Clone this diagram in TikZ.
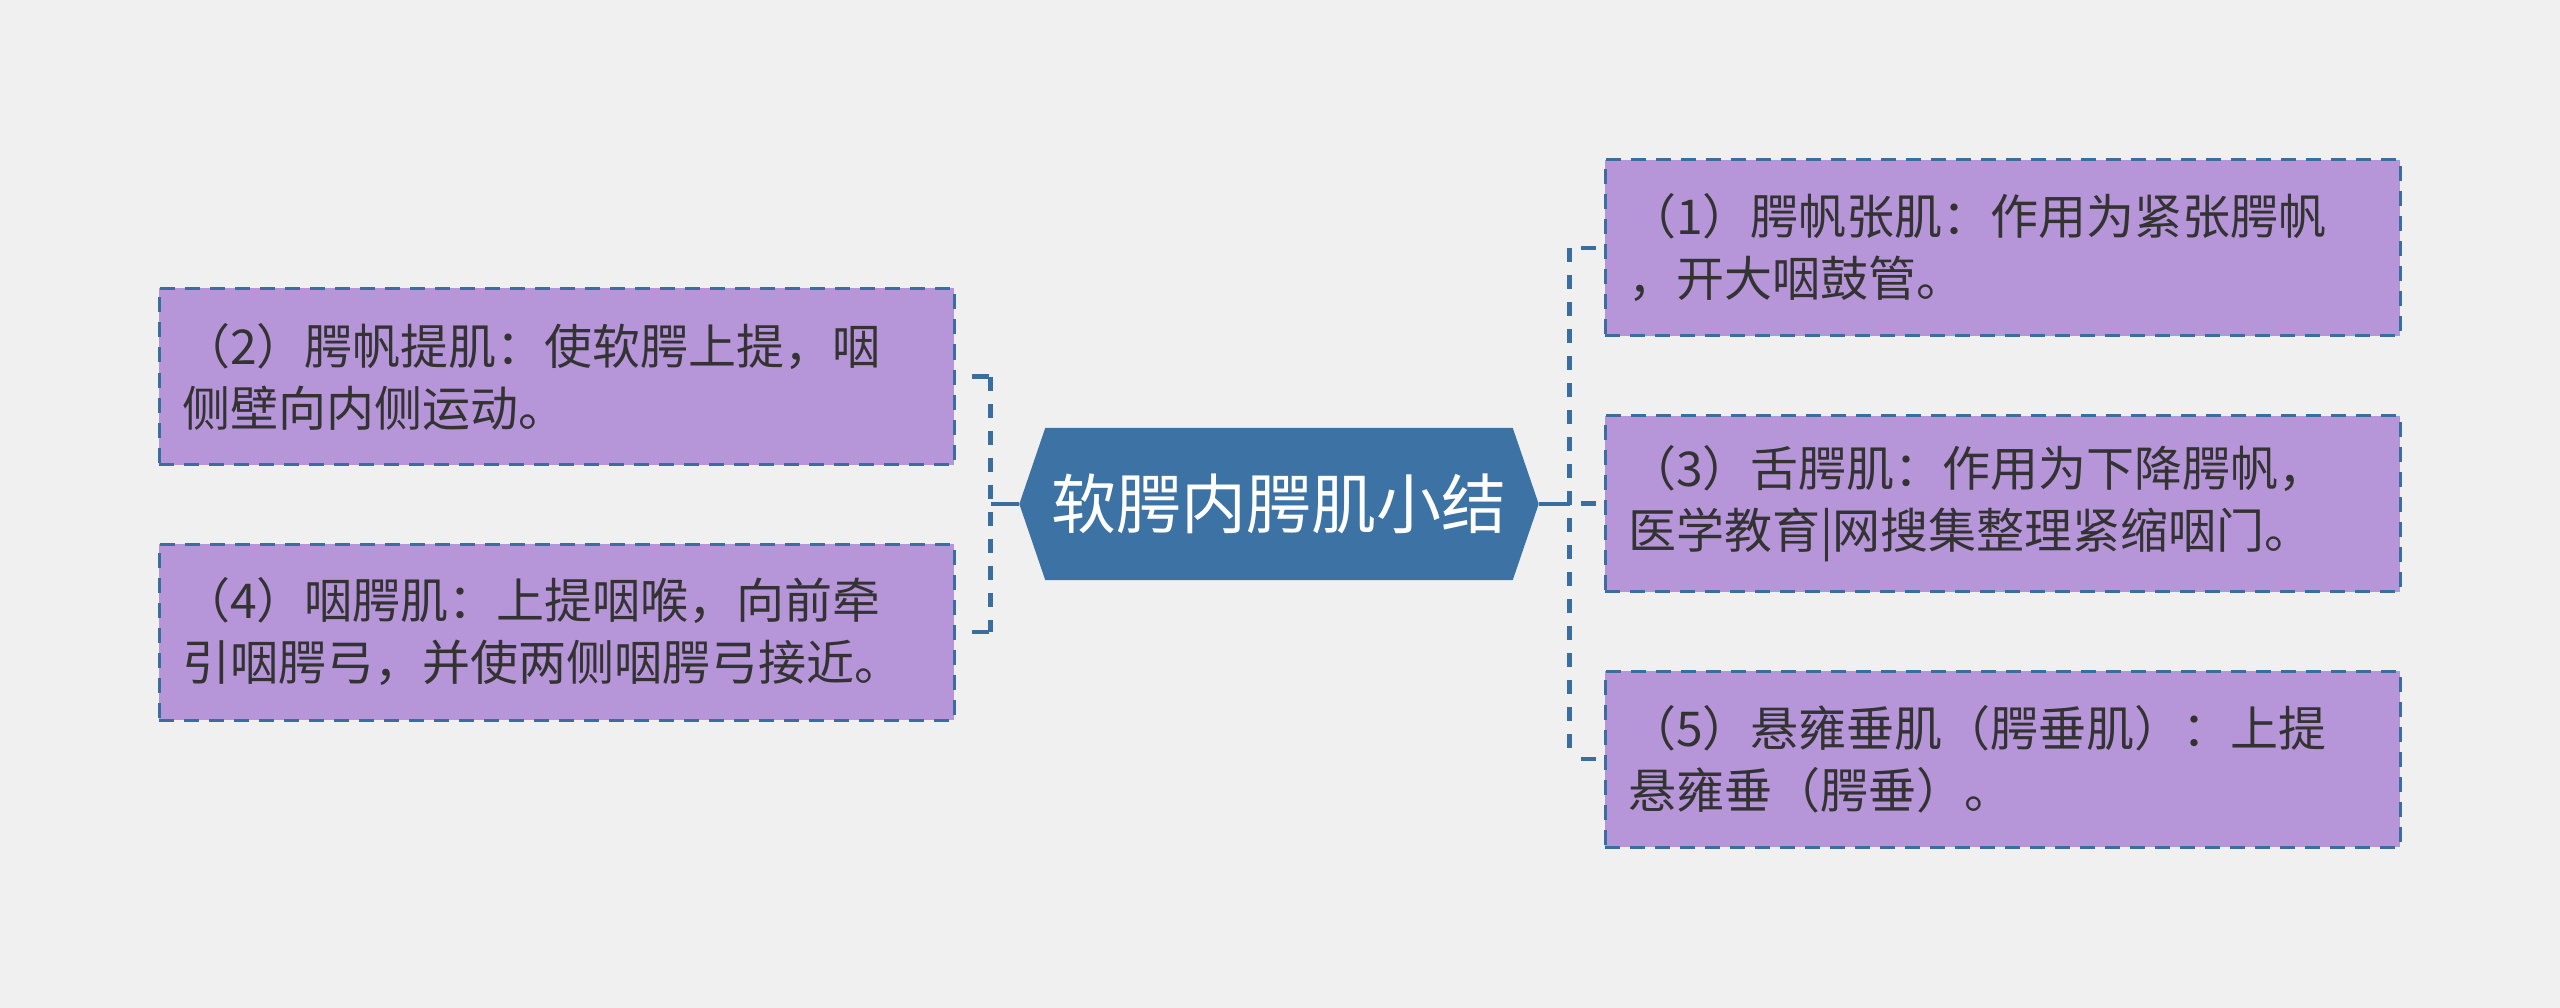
\documentclass[tikz,border=0pt]{standalone}
\usepackage{fontspec}
\newfontfamily\cjk{Noto Sans CJK SC}
\usetikzlibrary{backgrounds}
\definecolor{bgcol}{HTML}{F0F0F0}
\definecolor{lineblue}{HTML}{3A6E9E}
\definecolor{rootblue}{HTML}{3D72A4}
\definecolor{leafpurple}{HTML}{B696D9}
\definecolor{textdark}{HTML}{333333}
\begin{document}
\begin{tikzpicture}[x=1pt,y=-1pt,
  leaf/.style={draw=lineblue, line width=3pt, dash pattern=on 15pt off 10pt,
    fill=leafpurple, minimum width=795pt, minimum height=176pt,
    inner xsep=23pt, text width=749pt, align=left, text=textdark,
    font=\cjk\fontsize{48}{62}\selectfont},
  rootnode/.style={minimum width=467pt, minimum height=152pt, text=white,
    font=\cjk\fontsize{65}{70}\selectfont},
  conn/.style={draw=lineblue, line width=4.5pt, dash pattern=on 14pt off 13pt},
  stub/.style={draw=lineblue, line width=4.5pt},
  rootconn/.style={draw=lineblue, line width=4.5pt},
]
\useasboundingbox (0,0) rectangle (2560,1008);

\node[rootnode] (root) at (1279,504) {软腭内腭肌小结};
\coordinate (rootL) at ([xshift=-26pt]root.west);
\coordinate (rootR) at ([xshift=26pt]root.east);
\begin{scope}[on background layer]
  \fill[bgcol] (0,0) rectangle (2560,1008);
  \fill[rootblue] (root.north west) -- (root.north east) -- (rootR)
    -- (root.south east) -- (root.south west) -- (rootL) -- cycle;
\end{scope}

\node[leaf] (b2) at (556.5,376.5) {（2）腭帆提肌：使软腭上提，咽\\侧壁向内侧运动。};
\node[leaf] (b4) at (556.5,632) {（4）咽腭肌：上提咽喉，向前牵\\引咽腭弓，并使两侧咽腭弓接近。};
\node[leaf] (b1) at (2002.5,248) {（1）腭帆张肌：作用为紧张腭帆\\，开大咽鼓管。};
\node[leaf] (b3) at (2002.5,503.5) {（3）舌腭肌：作用为下降腭帆，\\医学教育|网搜集整理紧缩咽门。};
\node[leaf] (b5) at (2002.5,759) {（5）悬雍垂肌（腭垂肌）：上提\\悬雍垂（腭垂）。};

% left bracket
\coordinate (lb2) at ([xshift=35pt]b2.east);
\coordinate (lb4) at ([xshift=35pt]b4.east);
\draw[conn] (lb2) -- (lb4);
\draw[stub] ([xshift=16pt]b2.east) -- ([xshift=33pt]b2.east);
\draw[stub] ([xshift=16pt]b4.east) -- ([xshift=33pt]b4.east);
\draw[rootconn] (rootL) -- (rootL -| lb2);

% right bracket
\coordinate (rb1) at ([xshift=-34pt]b1.west);
\coordinate (rb5) at ([xshift=-34pt]b5.west);
\draw[conn] (rb1) -- (rb5);
\draw[stub] ([xshift=-23pt]b1.west) -- ([xshift=-8pt]b1.west);
\draw[stub] ([xshift=-23pt]b3.west) -- ([xshift=-8pt]b3.west);
\draw[stub] ([xshift=-23pt]b5.west) -- ([xshift=-8pt]b5.west);
\draw[rootconn] (rootR) -- (rootR -| rb1);
\end{tikzpicture}
\end{document}
